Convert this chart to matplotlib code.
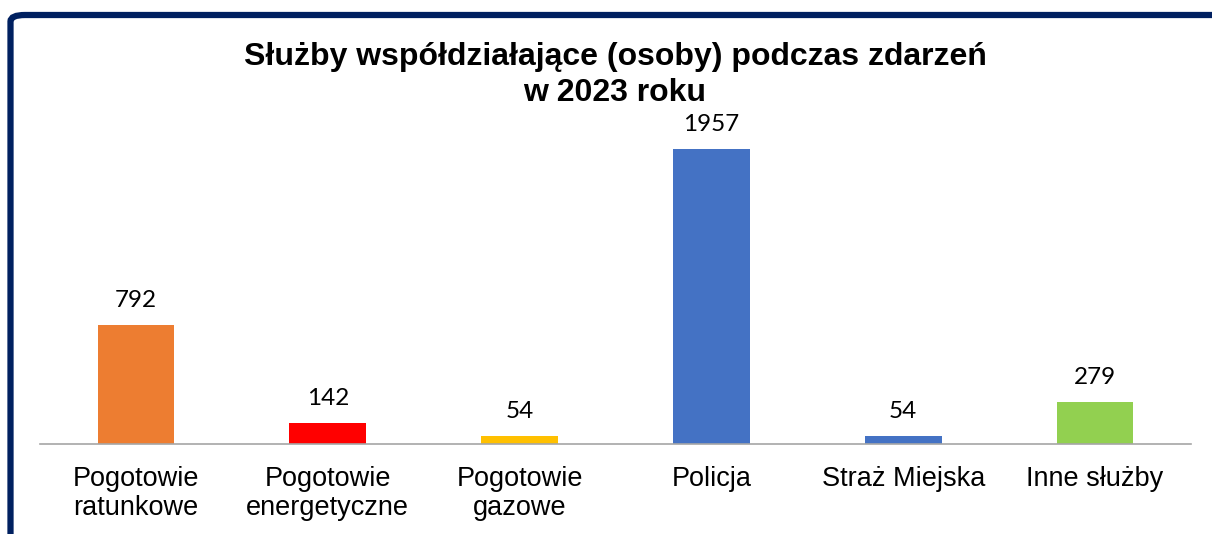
import matplotlib.pyplot as plt
from matplotlib.patches import FancyBboxPatch

categories = ['Pogotowie\nratunkowe', 'Pogotowie\nenergetyczne', 'Pogotowie\ngazowe',
              'Policja', 'Straż Miejska', 'Inne służby']
values = [792, 142, 54, 1957, 54, 279]
colors = ['#ED7D31', '#FF0000', '#FFC000', '#4472C4', '#4472C4', '#92D050']
title = 'Służby współdziałające (osoby) podczas zdarzeń\nw 2023 roku'

W, H = 1212, 534
fig = plt.figure(figsize=(W / 100, H / 100), dpi=100)

# ramka (granatowa, zaokraglony lewy gorny rog)
frame = FancyBboxPatch((10.5 / W, -0.2), 1.2, (H - 15) / H + 0.2,
                       boxstyle='round,pad=0,rounding_size=0.012',
                       transform=fig.transFigure, fill=False,
                       edgecolor='#002060', linewidth=4.5, clip_on=False)
fig.patches.append(frame)

# osie: od x=40 do 1191 px, linia bazowa y=444 px
left, right, base, top = 40, 1191, 444, 100
ax = fig.add_axes([left / W, 1 - base / H, (right - left) / W, (base - top) / H])
ymax = values[3] * (base - top) / (base - 149)

x = range(len(categories))
bars = ax.bar(x, values, width=0.40, color=colors)
ax.set_xlim(-0.5, len(categories) - 0.5)
ax.set_ylim(0, ymax)

for b, v in zip(bars, values):
    ax.annotate(str(v), (b.get_x() + b.get_width() / 2, v), xytext=(0, 17.5),
                textcoords='offset points', ha='center', va='center',
                fontsize=17.5, family=['Lato', 'DejaVu Sans'], color='#000000')

ax.set_xticks(list(x))
ax.set_xticklabels(categories, fontsize=19.5, family=['Liberation Sans', 'DejaVu Sans'],
                   linespacing=1.15)
ax.tick_params(axis='x', length=0, pad=16)
ax.set_yticks([])
for s in ['top', 'right', 'left']:
    ax.spines[s].set_visible(False)
ax.spines['bottom'].set_color('#a6a6a6')
ax.spines['bottom'].set_linewidth(1.2)

fig.text(615 / W, 1 - 75 / H, title, ha='center', va='center', fontsize=23,
         fontweight='bold', family=['Liberation Sans', 'DejaVu Sans'], linespacing=1.22)

fig.savefig('out.png', dpi=100)
